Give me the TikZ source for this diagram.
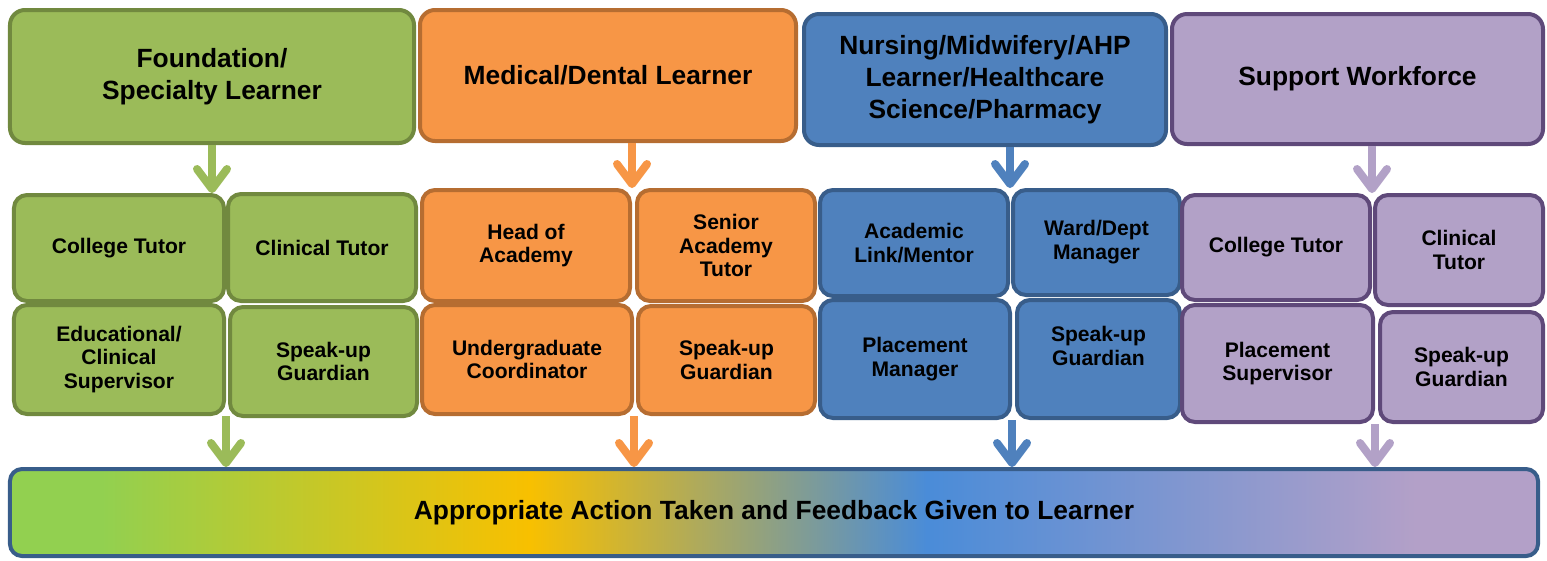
\documentclass[tikz,border=0pt]{standalone}
\usepackage{fontspec}
\setmainfont{Liberation Sans}
\usepackage{tikz}
\usetikzlibrary{arrows.meta}

\definecolor{grnFill}{HTML}{9BBB59}
\definecolor{grnLine}{HTML}{71893F}
\definecolor{orgFill}{HTML}{F79646}
\definecolor{orgLine}{HTML}{B66D31}
\definecolor{bluFill}{HTML}{4F81BD}
\definecolor{bluLine}{HTML}{385D8A}
\definecolor{prpFill}{HTML}{B2A1C7}
\definecolor{prpLine}{HTML}{5F497A}
\definecolor{barGreen}{HTML}{92D050}
\definecolor{barYellow}{HTML}{F8C000}
\definecolor{barBlue}{HTML}{4A8CD8}
\definecolor{barPurple}{HTML}{B3A0C8}

\pgfdeclarehorizontalshading{actionshade}{100bp}{color(0bp)=(barGreen); color(28bp)=(barGreen); color(42bp)=(barYellow); color(55bp)=(barBlue); color(71bp)=(barPurple); color(100bp)=(barPurple)}

\begin{document}
\begin{tikzpicture}[x = 0.2mm , y = -0.2mm ,
    box/.style = {draw , line width = 0.8mm , rounded corners = 2.6mm , align = center , inner sep = 0pt , font = \fontsize{12}{13.6}\selectfont\bfseries},
    head/.style = {box , rounded corners = 3mm , font = \fontsize{15}{18.1}\selectfont\bfseries},
    grn/.style = {fill = grnFill , draw = grnLine},
    org/.style = {fill = orgFill , draw = orgLine},
    blu/.style = {fill = bluFill , draw = bluLine},
    prp/.style = {fill = prpFill , draw = prpLine},
    link/.style = {line width = 1.6mm , -{Straight Barb[length = 4mm , width = 6mm , round]}}]
    \useasboundingbox (0 , 0) rectangle (1547 , 560);

    % learner headers
    \node[head , grn , minimum width = 80.8mm , minimum height = 26.6mm] (fndHd) at (212 , 76.5) {Foundation/\\Specialty Learner};
    \node[head , org , minimum width = 75.2mm , minimum height = 26.2mm] (medHd) at (608 , 75.5) {Medical/Dental Learner};
    \node[head , blu , minimum width = 72.4mm , minimum height = 26.2mm] (nurHd) at (985 , 79.5) {Nursing/Midwifery/AHP\\Learner/Healthcare\\Science/Pharmacy};
    \node[head , prp , minimum width = 74.2mm , minimum height = 26mm] (supHd) at (1357.5 , 79) {Support Workforce};

    % green column
    \node[box , grn , minimum width = 42mm , minimum height = 21.2mm] (gA) at (119 , 248) {College Tutor};
    \node[box , grn , minimum width = 37.6mm , minimum height = 21.4mm] (gB) at (322 , 247.5) {Clinical Tutor};
    \node[box , grn , minimum width = 42mm , minimum height = 21.8mm] (gC) at (119 , 359.5) {Educational/\\Clinical\\Supervisor};
    \node[box , grn , minimum width = 37.4mm , minimum height = 21.8mm] (gD) at (323.5 , 361.5) {Speak-up\\Guardian};

    % orange column
    \node[box , org , minimum width = 41.6mm , minimum height = 22.2mm] (oA) at (526 , 245.5) {Head of\\Academy};
    \node[box , org , minimum width = 35.6mm , minimum height = 22.2mm] (oB) at (726 , 245.5) {Senior\\Academy\\Tutor};
    \node[box , org , minimum width = 42mm , minimum height = 21.8mm] (oC) at (527 , 359.5) {Undergraduate\\Coordinator};
    \node[box , org , minimum width = 35.4mm , minimum height = 21.6mm] (oD) at (726.5 , 360) {Speak-up\\Guardian};

    % blue column
    \node[box , blu , minimum width = 37.6mm , minimum height = 21.2mm] (bA) at (914 , 243) {Academic\\Link/Mentor};
    \node[box , blu , minimum width = 33.4mm , minimum height = 21mm] (bB) at (1096.5 , 242.5) {Ward/Dept\\Manager};
    \node[box , blu , minimum width = 38mm , minimum height = 23.6mm] (bC) at (915 , 359) {Placement\\Manager};
    \node[box , blu , minimum width = 32.6mm , minimum height = 23.6mm] (bD) at (1098.5 , 359) {Speak-up\\Guardian\\[0.4mm]};

    % purple column
    \node[box , prp , minimum width = 37.6mm , minimum height = 21mm] (pA) at (1276 , 247.5) {College Tutor};
    \node[box , prp , minimum width = 33.6mm , minimum height = 22mm] (pB) at (1459 , 250) {Clinical\\Tutor};
    \node[box , prp , minimum width = 38.2mm , minimum height = 23.4mm] (pC) at (1277.5 , 363.5) {Placement\\Supervisor};
    \node[box , prp , minimum width = 32.6mm , minimum height = 22mm] (pD) at (1461.5 , 367) {Speak-up\\Guardian};

    % outcome bar
    \node[box , draw = bluLine , shading = actionshade , rounded corners = 2.4mm , minimum width = 305.6mm , minimum height = 17.4mm , font = \fontsize{15}{18}\selectfont\bfseries] (act) at (774 , 512.5) {Appropriate Action Taken and Feedback Given to Learner};

    % arrows in
    \draw[link , grnFill] (fndHd.south) -- (fndHd.south |- gA.north);
    \draw[link , orgFill] (medHd.south -| oA.north east) -- (oA.north east);
    \draw[link , bluFill] (nurHd.south -| bA.north east) -- (bA.north east);
    \draw[link , prpFill] (supHd.south -| pA.north east) -- (pA.north east);

    % arrows out
    \draw[link , grnFill] (gC.south east) -- (gC.south east |- act.north);
    \draw[link , orgFill] (oC.south east) -- (oC.south east |- act.north);
    \draw[link , bluFill] (bC.south east) -- (bC.south east |- act.north);
    \draw[link , prpFill] (pC.south east) -- (pC.south east |- act.north);
\end{tikzpicture}
\end{document}
